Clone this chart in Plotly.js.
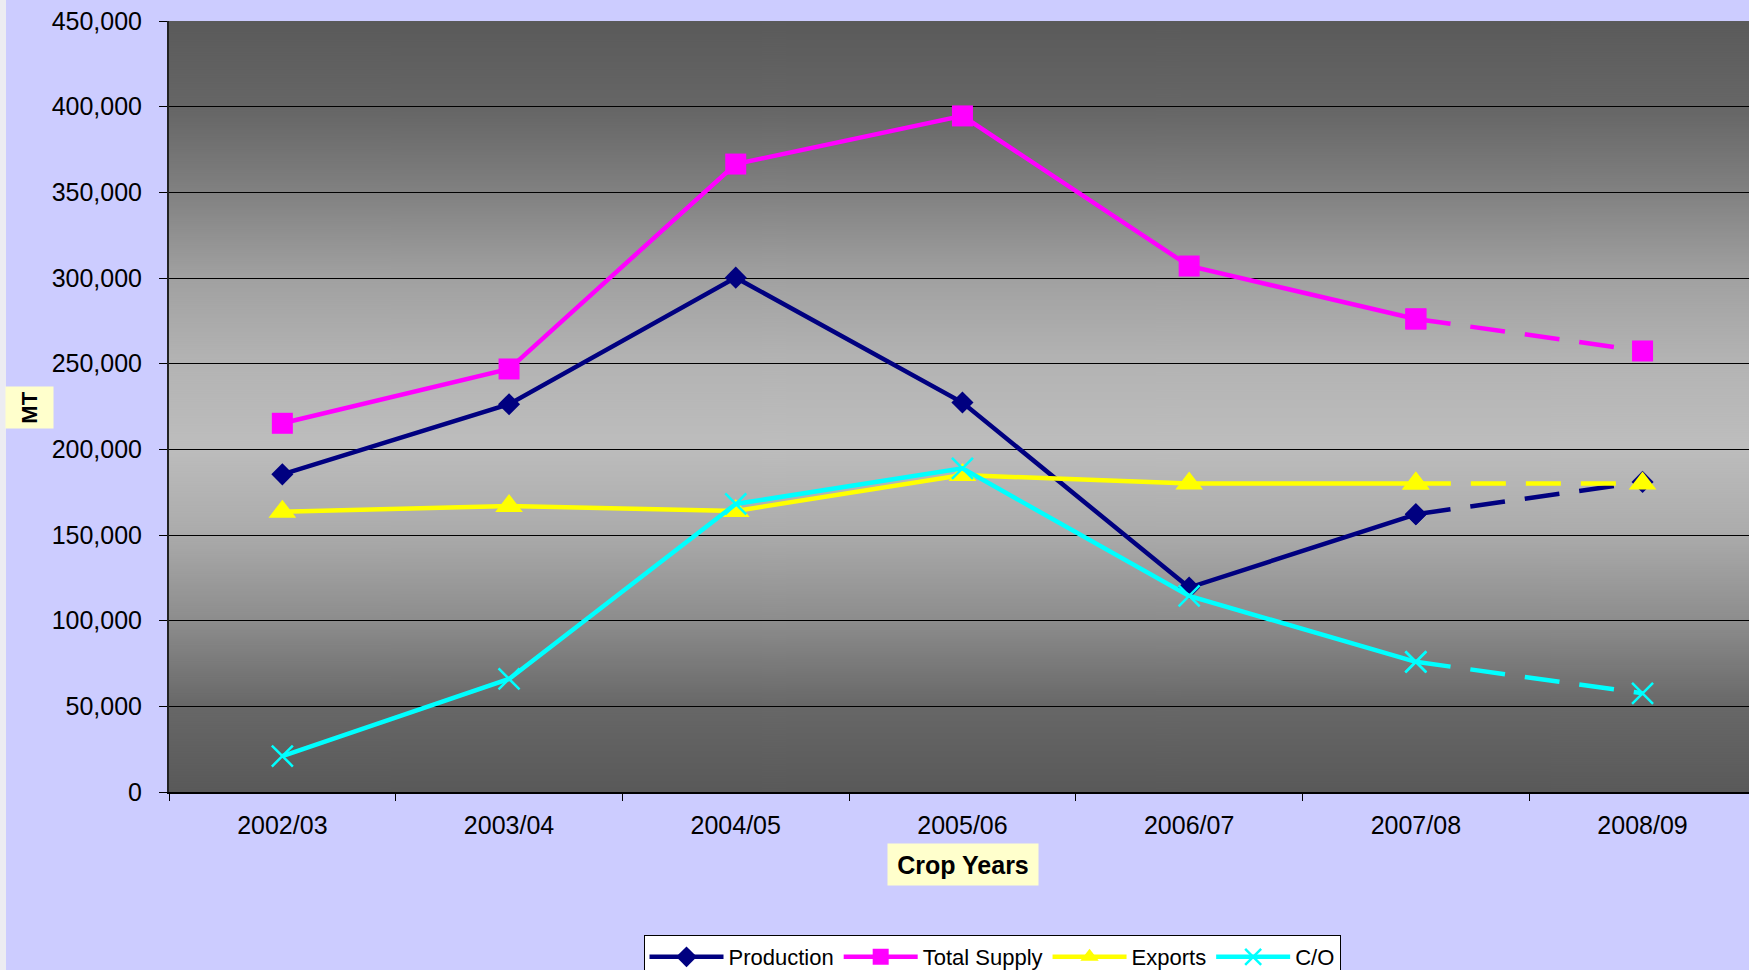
<!DOCTYPE html>
<html>
<head>
<meta charset="utf-8">
<script src="https://cdn.plot.ly/plotly-3.0.1.min.js"></script>
<style>
  html, body { margin: 0; padding: 0; background: #CCCCFF; }
  #chart { width: 1749px; height: 970px; }
</style>
</head>
<body>
<div id="chart"></div>
<script>
// crop years and series (MT)
var years = ["2002/03", "2003/04", "2004/05", "2005/06", "2006/07", "2007/08", "2008/09"];
var production  = [185400, 226300, 300200, 227300, 119300, 162100, 181000];
var totalSupply = [215200, 246900, 366500, 394600, 307000, 276100, 257400];
var exports     = [163600, 166900, 164000, 185000, 180000, 180000, 180000];
var carryOver   = [21000, 66000, 168100, 188900, 114400, 76000, 57600];

var W = 1749, H = 970;
var L = 169, R = 0, T = 21, B = 178;

// grey gradient for the plot area
function plotBackground() {
  var c = document.createElement("canvas");
  c.width = 4; c.height = 771;
  var ctx = c.getContext("2d");
  var g = ctx.createLinearGradient(0, 0, 0, 771);
  g.addColorStop(0.00, "#5a5a5a");
  g.addColorStop(0.12, "#676767");
  g.addColorStop(0.23, "#838383");
  g.addColorStop(0.33, "#a0a0a0");
  g.addColorStop(0.44, "#b3b3b3");
  g.addColorStop(0.55, "#bdbdbd");
  g.addColorStop(0.66, "#acacac");
  g.addColorStop(0.78, "#8c8c8c");
  g.addColorStop(0.89, "#676767");
  g.addColorStop(1.00, "#595959");
  ctx.fillStyle = g;
  ctx.fillRect(0, 0, 4, 771);
  return c.toDataURL();
}

var series = [
  {name: "Production",   y: production,  color: "#000080", symbol: "diamond",      size: 17},
  {name: "Total Supply", y: totalSupply, color: "#FF00FF", symbol: "square",       size: 21},
  {name: "Exports",      y: exports,     color: "#FFFF00", symbol: "triangle-up",  size: 24},
  {name: "C/O",          y: carryOver,   color: "#00FFFF", symbol: "x-thin-open",  size: 21}
];

function marker(s) {
  return {symbol: s.symbol, size: s.size, color: s.color,
          line: {color: s.color, width: s.symbol == "x-thin-open" ? 2.5 : 0}};
}

var traces = [];
var n = years.length;
// forecast segments (dashed) first so the solid markers sit on top
series.forEach(function(s) {
  traces.push({
    type: "scatter", mode: "lines+markers",
    x: years.slice(n - 2), y: s.y.slice(n - 2),
    line: {color: s.color, width: 4.5, dash: "35px,20px"},
    marker: marker(s), showlegend: false, hoverinfo: "skip"
  });
});
series.forEach(function(s) {
  traces.push({
    type: "scatter", mode: "lines+markers", name: s.name,
    x: years.slice(0, n - 1), y: s.y.slice(0, n - 1),
    line: {color: s.color, width: 4.5},
    marker: marker(s)
  });
});

var plotW = W - L - R, plotH = H - T - B;
function px(x) { return (x - L) / plotW; }
function py(y) { return 1 - (y - T) / plotH; }

var layout = {
  width: W, height: H,
  margin: {l: L, r: R, t: T, b: B, autoexpand: false},
  paper_bgcolor: "#CCCCFF",
  plot_bgcolor: "rgba(0,0,0,0)",
  font: {family: "Liberation Sans, Arial, sans-serif", color: "#000"},
  showlegend: true,
  xaxis: {
    type: "category", categoryorder: "array", categoryarray: years,
    range: [-0.5, (W - R - L) / 226.7 - 0.5],
    showline: true, linecolor: "#000", linewidth: 1.5,
    ticks: "outside", tickson: "boundaries", ticklen: 7, tickcolor: "#000",
    ticklabelstandoff: 10,
    showgrid: false, zeroline: false,
    tickfont: {size: 25, color: "#000"}
  },
  yaxis: {
    range: [0, 450000], dtick: 50000, tickformat: ",d",
    showline: true, linecolor: "#222", linewidth: 2,
    ticks: "outside", ticklen: 8, tickcolor: "#000",
    ticklabelstandoff: 12,
    showgrid: true, gridcolor: "#000", gridwidth: 1, zeroline: false,
    tickfont: {size: 25, color: "#000"}
  },
  legend: {
    orientation: "h", x: px(992), xanchor: "center", y: py(935), yanchor: "top",
    bgcolor: "#FFFFFF", bordercolor: "#000", borderwidth: 1,
    font: {size: 22, color: "#000"}, itemwidth: 74, tracegroupgap: 0,
    valign: "top"
  },
  images: [{
    source: plotBackground(), xref: "paper", yref: "paper",
    x: 0, y: 1, sizex: 1, sizey: 1, xanchor: "left", yanchor: "top",
    sizing: "stretch", layer: "below"
  }],
  shapes: [{
    type: "rect", xref: "paper", yref: "paper",
    x0: px(0), x1: px(6), y0: py(H), y1: py(0),
    fillcolor: "#ECECF2", line: {width: 0}, layer: "below"
  }],
  annotations: [
    {
      text: "<b>MT</b>", xref: "paper", yref: "paper",
      x: px(29.5), y: py(407.5), xanchor: "center", yanchor: "middle",
      textangle: -90, showarrow: false, bgcolor: "#FFFFCC",
      width: 41, height: 47, borderpad: 0,
      font: {size: 22, color: "#000"}
    },
    {
      text: "<b>Crop Years</b>", xref: "paper", yref: "paper",
      x: px(963), y: py(864.5), xanchor: "center", yanchor: "middle",
      showarrow: false, bgcolor: "#FFFFCC",
      width: 150, height: 41, borderpad: 0,
      font: {size: 25, color: "#000"}
    }
  ]
};

Plotly.newPlot("chart", traces, layout, {displayModeBar: false, staticPlot: true});
</script>
</body>
</html>
